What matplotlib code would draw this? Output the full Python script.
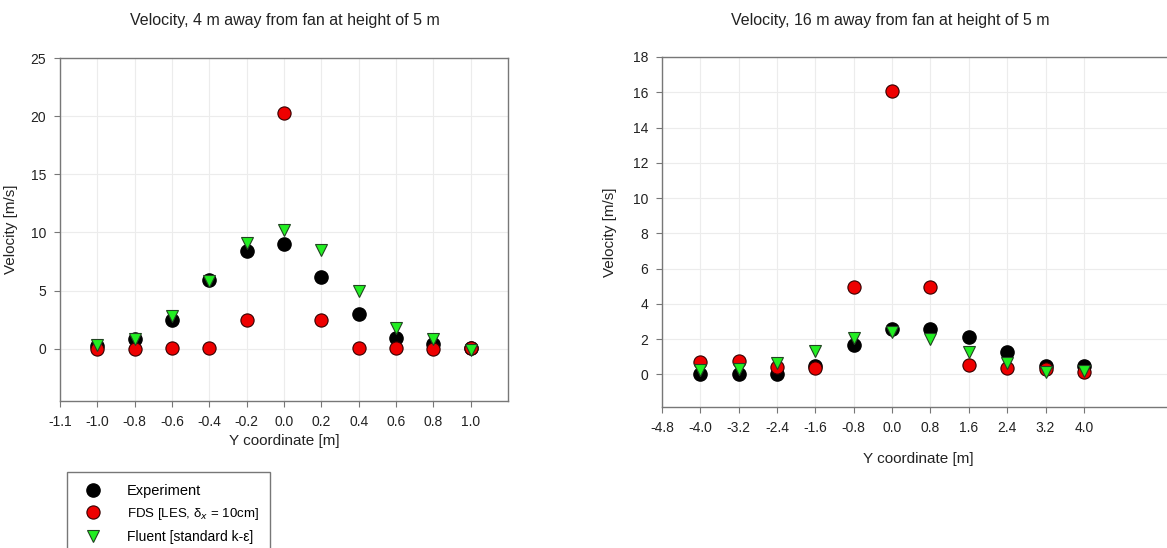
import matplotlib
matplotlib.use('Agg')
from matplotlib import pyplot

pyplot.rcParams['font.family'] = ['Liberation Sans', 'DejaVu Sans']

# Left panel: 4 m away from fan
y_near = [-1.0, -0.8, -0.6, -0.4, -0.2, 0.0, 0.2, 0.4, 0.6, 0.8, 1.0]
exp_near = [0.2, 0.8, 2.45, 5.9, 8.4, 9.0, 6.2, 3.0, 0.9, 0.4, 0.1]
fds_near = [0.0, 0.0, 0.05, 0.1, 2.5, 20.3, 2.5, 0.1, 0.05, 0.0, 0.05]
flu_near = [0.35, 0.85, 2.8, 5.8, 9.05, 10.2, 8.5, 5.0, 1.8, 0.8, -0.1]
xt_near = [-1.2, -1.0, -0.8, -0.6, -0.4, -0.2, 0.0, 0.2, 0.4, 0.6, 0.8, 1.0]
xl_near = ['-1.1', '-1.0', '-0.8', '-0.6', '-0.4', '-0.2', '0.0', '0.2', '0.4', '0.6', '0.8', '1.0']
yt_near = [0, 5, 10, 15, 20, 25]

# Right panel: 16 m away from fan
y_far = [-4.0, -3.2, -2.4, -1.6, -0.8, 0.0, 0.8, 1.6, 2.4, 3.2, 4.0]
exp_far = [0.0, 0.0, 0.0, 0.5, 1.66, 2.55, 2.58, 2.1, 1.28, 0.5, 0.5]
fds_far = [0.68, 0.77, 0.4, 0.38, 4.96, 16.06, 4.96, 0.53, 0.34, 0.28, 0.15]
flu_far = [0.25, 0.28, 0.62, 1.34, 2.07, 2.38, 2.0, 1.25, 0.62, 0.15, 0.2]
xt_far = [-4.8, -4.0, -3.2, -2.4, -1.6, -0.8, 0.0, 0.8, 1.6, 2.4, 3.2, 4.0]
xl_far = ['-4.8', '-4.0', '-3.2', '-2.4', '-1.6', '-0.8', '0.0', '0.8', '1.6', '2.4', '3.2', '4.0']
yt_far = [0, 2, 4, 6, 8, 10, 12, 14, 16, 18]

labels = ['Experiment', 'FDS [LES, \u03b4$_x$ = 10cm]', 'Fluent [standard k-\u03b5]']

W, H = 1167, 548
f = pyplot.figure(figsize=(W / 100, H / 100), dpi=100)
ax0 = f.add_axes([60 / W, 1 - 401 / H, 448 / W, 343 / H])
# right panel runs off the edge of the image, as in the original
ax1 = f.add_axes([662 / W, 1 - 407 / H, 513 / W, 350 / H])


def draw(ax, x, e, fd, fl):
    h1, = ax.plot(x, e, 'o', color='black', mec='black', ms=9.5, zorder=3)
    h2, = ax.plot(x, fd, 'o', color='#ee0000', mec='#330000', mew=0.8, ms=9.5, zorder=4)
    h3, = ax.plot(x, fl, 'v', color='#22ee22', mec='#224422', mew=0.8, ms=9, zorder=5)
    return h1, h2, h3


handles = draw(ax0, y_near, exp_near, fds_near, flu_near)
draw(ax1, y_far, exp_far, fds_far, flu_far)

ax0.set_xlim([-1.2, 1.2])
ax0.set_ylim([-4.5, 25])
ax0.set_xticks(xt_near)
ax0.set_xticklabels(xl_near)
ax0.set_yticks(yt_near)

ax1.set_xlim([-4.8, 5.9])
ax1.set_ylim([-1.85, 18])
ax1.set_xticks(xt_far)
ax1.set_xticklabels(xl_far)
ax1.set_yticks(yt_far)

for ax in (ax0, ax1):
    ax.grid(True, color='#ececec', lw=0.8, zorder=0)
    ax.set_axisbelow(True)
    for s in ax.spines.values():
        s.set_color('#777777')
        s.set_linewidth(1.0)
    ax.tick_params(direction='out', length=4, color='#777777', labelsize=10,
                   labelcolor='#222222', pad=6)
    ax.set_ylabel('Velocity [m/s]', fontsize=11, color='#222222')

ax0.set_xlabel('Y coordinate [m]', fontsize=11, color='#222222', labelpad=4)
ax1.set_xlabel('Y coordinate [m]', fontsize=11, color='#222222', labelpad=12)
ax0.yaxis.set_label_coords((18 - 60) / 448, 0.5)
ax1.yaxis.set_label_coords((617 - 662) / 513, 0.5)

f.text(285 / W, 1 - 20 / H, 'Velocity, 4 m away from fan at height of 5 m',
       ha='center', va='center', fontsize=11.5, color='#222222')
f.text(890 / W, 1 - 20 / H, 'Velocity, 16 m away from fan at height of 5 m',
       ha='center', va='center', fontsize=11.5, color='#222222')

# legend box is cut by the bottom of the image in the original
leg = f.legend(handles, labels, loc='upper left', bbox_to_anchor=(67 / W, 1 - 472 / H),
               frameon=True, fancybox=False, edgecolor='#555555', fontsize=10.5,
               handletextpad=1.3, borderpad=0.8, borderaxespad=0, labelspacing=0.55,
               handlelength=2.0)
leg.get_frame().set_linewidth(1.0)
leg.get_texts()[1].set_fontsize(9.5)
leg.get_texts()[2].set_fontsize(10)

pyplot.savefig('out.png', dpi=100)
